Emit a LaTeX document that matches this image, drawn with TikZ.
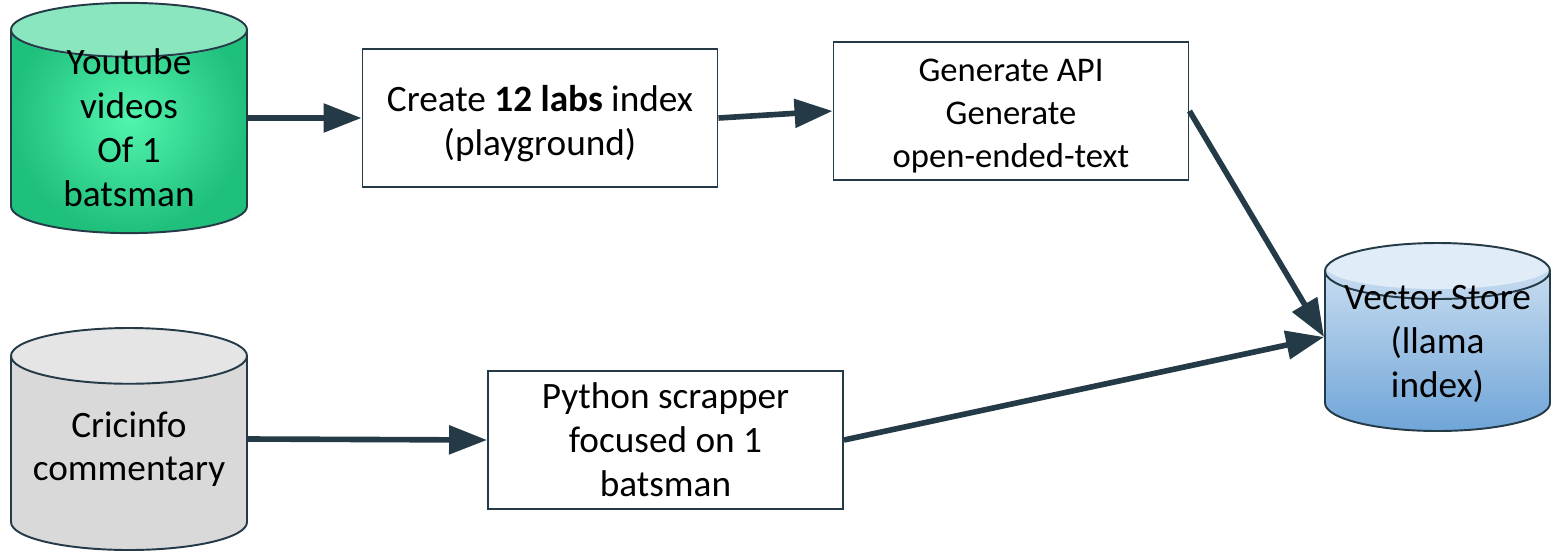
\documentclass[tikz,border=0pt]{standalone}
\usepackage{fontspec}
\setmainfont{Carlito}
\usetikzlibrary{shapes.geometric, arrows.meta}
\definecolor{linecol}{HTML}{243A47}
\definecolor{greenin}{HTML}{52F5AE}
\definecolor{greenout}{HTML}{1FBF7C}
\definecolor{greentop}{HTML}{8AE6BE}
\definecolor{bluehi}{HTML}{D6E5F4}
\definecolor{bluelo}{HTML}{6FA5D8}
\definecolor{bluetop}{HTML}{E0ECF7}
\tikzset{
    procbox/.style={draw=linecol, line width=1.1pt, fill=white, minimum width=7.1cm, minimum height=2.76cm, text width=6.9cm, align=flush center, inner sep=0pt},
    store/.style={draw=linecol, line width=1.1pt, shape=cylinder, shape border rotate=90, aspect=#1, inner sep=0pt, align=flush center, anchor=shape center},
    link/.style={draw=linecol, line width=3.2pt, -{Triangle[length=.76cm, width=.56cm]}}
}
\begin{document}
\begin{tikzpicture}[font=\fontsize{21.2}{25}\selectfont]
        \useasboundingbox (0, 0) rectangle (31.04, -11.02);

        \node[store=.41, minimum width=4.72cm, minimum height=4.44cm, inner color=greenin, outer color=greenout, text height=2.97cm, text depth=-2.97cm,
            path picture={\fill[greentop] ([yshift=-.55cm]path picture bounding box.north) ellipse (2.36cm and .55cm);}] (YT) at (2.58, -2.36) {Youtube \\ videos \\ Of 1 \\ batsman};
        \node[store=.29, minimum width=4.72cm, minimum height=4.44cm, fill=black!15, text height=1.1cm, text depth=-1.1cm,
            path picture={\fill[black!10] ([yshift=-.55cm]path picture bounding box.north) ellipse (2.36cm and .55cm);}] (CI) at (2.58, -8.78) {Cricinfo \\ commentary};
        \node[store=.3, minimum width=4.5cm, minimum height=3.76cm, top color=bluehi, bottom color=bluelo, text height=1.83cm, text depth=-1.83cm,
            path picture={\fill[bluetop] ([yshift=-.46cm]path picture bounding box.north) ellipse (2.25cm and .46cm);}] (VS) at (28.75, -6.74) {Vector Store \\ (llama \\ index)};

        \node[procbox, text height=.74cm] (IDX) at (10.8, -2.36) {Create \textbf{12 labs} index \\ (playground)};
        \node[procbox, text height=.66cm, font=\fontsize{19.7}{24.4}\selectfont] (API) at (20.22, -2.22) {Generate API \\ Generate \\ open-ended-text};
        \node[procbox] (PY) at (13.31, -8.8) {Python scrapper \\ focused on 1 \\ batsman};

        \coordinate (VSin) at (VS.shape center -| VS.west);

        \draw[link] (YT.shape center -| YT.east) -- (IDX.west);
        \draw[link] (IDX.east) -- (API.west);
        \draw[link] (API.east) -- (VSin);
        \draw[link] (CI.shape center -| CI.east) -- (PY.west);
        \draw[link] (PY.east) -- (VSin);
    \end{tikzpicture}
\end{document}
